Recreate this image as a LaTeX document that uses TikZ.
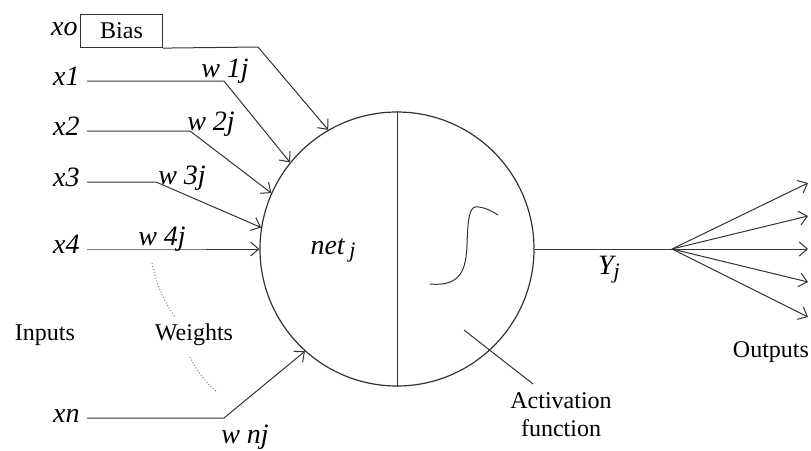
\documentclass[tikz,border=0pt]{standalone}
\usepackage{fontspec}
\setmainfont{Liberation Serif}
\usetikzlibrary{calc,arrows.meta}

\begin{document}
\begin{tikzpicture}[x=0.5pt,y=-0.5pt]
  \tikzstyle{neuron}=[circle,draw=black!80,line width=.6pt,minimum size=137pt,inner sep=0pt]
  \tikzstyle{edge}=[draw=black!80,line width=.5pt]
  \tikzstyle{aedge}=[edge,-{Straight Barb[length=4pt,width=7pt]}]
  \tikzstyle{wedge}=[draw=gray,line width=.5pt,densely dotted]
  \tikzstyle{xlabel}=[font=\fontsize{14}{16}\selectfont\itshape,inner sep=0pt]
  \tikzstyle{tlabel}=[font=\fontsize{12}{14}\selectfont,inner sep=0pt,align=center]
  \useasboundingbox (0,0) rectangle (811,451);
  % neuron
  \node[neuron] (n) at (397,249) {};
  \draw[edge] (n.north) -- (n.south);
  \node[xlabel] (net) at (333,250) {net\,\raisebox{-1.5pt}{\fontsize{11}{12}\selectfont j}};
  \draw[edge] (430,284) .. controls (462,287) and (466,268) .. (467,245)
    .. controls (468,214) and (470,205) .. (479,207) .. controls (486,208) and (492,211) .. (498,215);
  % bias
  \node[draw=black!80,line width=.6pt,minimum width=41pt,minimum height=16.5pt,inner sep=0pt,
    font=\fontsize{12}{14}\selectfont] (bias) at (121.5,31) {Bias};
  \node[xlabel,anchor=mid east] (x0) at (78,31) {xo};
  \coordinate (b0) at (258,47);
  \draw[aedge] (bias.south east) -- (b0) -- (n.120.7);
  % inputs
  \foreach \i/\y/\bx/\a in {1/81/224/141.8,2/131/190/156,3/182/156/171.6,4/249/156/180,n/418/224/228.2}{
    \node[xlabel,anchor=mid east] (x\i) at (80,\y) {x\i};
    \coordinate (b\i) at (\bx,\y);
    \draw[aedge] ([xshift=3.5pt]x\i.mid east) -- (b\i) -- (n.\a);
  }
  \foreach \i/\x/\y in {1/225/71,2/211/124,3/182/178,4/162/239,n/245/437}
    \node[xlabel] (w\i) at (\x,\y) {w \i j};
  % weights
  \node[tlabel] (inputs) at (45,335) {Inputs};
  \node[tlabel] (weights) at (194,335) {Weights};
  \draw[wedge] (152,263) .. controls (156,283) and (163,300) .. (175,317);
  \draw[wedge] (190,357) .. controls (197,371) and (206,383) .. (217,392);
  % output
  \coordinate (fan) at (672,249);
  \draw[edge] (n.east) -- (fan);
  \node[xlabel] (y) at (609,270) {Y\raisebox{-2pt}{\fontsize{11}{12}\selectfont j}};
  \foreach \k/\y in {1/183,2/216,3/249,4/282,5/317}{
    \coordinate (o\k) at (808,\y);
    \draw[aedge] (fan) -- (o\k);
  }
  \node[tlabel] (outputs) at (771,352) {Outputs};
  % activation
  \node[tlabel] (act) at (561,415) {Activation\\[0pt]function};
  \coordinate (a1) at (464,330);
  \coordinate (a2) at (533,384);
  \draw[edge] (a1) -- (a2);
\end{tikzpicture}
\end{document}
